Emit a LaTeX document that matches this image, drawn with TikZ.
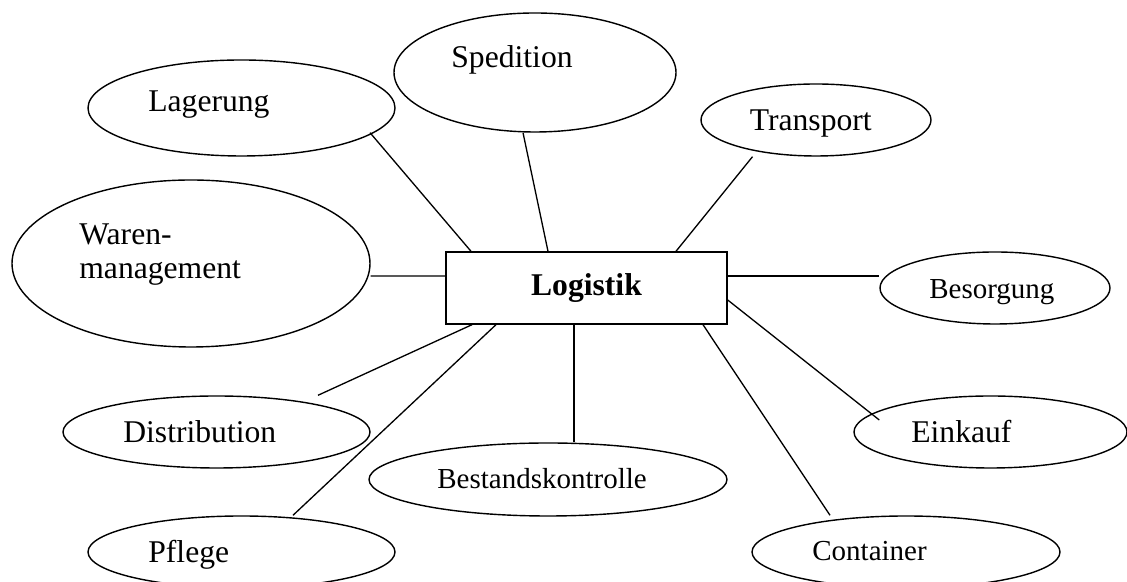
\documentclass[tikz,border=0pt]{standalone}
\usepackage{fontspec}
\setmainfont{Liberation Serif}
\usetikzlibrary{shapes.geometric, calc}
\tikzset{
    blob/.style ={draw, ellipse, line width=0.8pt, inner sep=0pt},
    core/.style ={draw, rectangle, line width=0.8pt, inner sep=0pt,
                  font=\fontsize{18}{21.6}\selectfont\bfseries},
    lbl/.style  ={font=\fontsize{18}{21.2}\selectfont, inner sep=0pt, anchor=base west},
    lblsm/.style={lbl, font=\fontsize{16.5}{19.8}\selectfont},
    link/.style ={line width=0.75pt},
}

\begin{document}
\begin{tikzpicture}[x=1cm, y=1cm]
\useasboundingbox (0,0) rectangle (22.54,11.64);

% ===================== Mitte =====================
\node[core, minimum width=5.62cm, minimum height=1.44cm] (log) at (11.73,5.88) {Logistik};

% ===================== Obere Reihe =====================
\node[blob, minimum width=6.14cm, minimum height=1.92cm] (lager) at (4.83,9.48) {};
\node[lbl] (lager-t) at (2.96,9.41) {Lagerung};
\node[blob, minimum width=5.64cm, minimum height=2.38cm] (sped) at (10.70,10.19) {};
\node[lbl] (sped-t) at (9.02,10.28) {Spedition};
\node[blob, minimum width=4.60cm, minimum height=1.44cm] (trans) at (16.32,9.24) {};
\node[lbl] (trans-t) at (14.99,9.03) {Transport};

% ===================== Links und rechts =====================
\node[blob, minimum width=7.16cm, minimum height=3.34cm] (waren) at (3.82,6.37) {};
\node[lbl, align=left] (waren-t) at (1.58,6.06) {Waren-\\[-1.4pt]management};
\node[blob, minimum width=4.60cm, minimum height=1.44cm] (besorg) at (19.90,5.88) {};
\node[lblsm] (besorg-t) at (18.58,5.67) {Besorgung};

% ===================== Untere Reihen =====================
\node[blob, minimum width=6.14cm, minimum height=1.44cm] (distr) at (4.33,3.00) {};
\node[lbl] (distr-t) at (2.46,2.79) {Distribution};
\node[blob, minimum width=5.46cm, minimum height=1.44cm] (einkauf) at (19.81,3.00) {};
\node[lbl] (einkauf-t) at (18.22,2.79) {Einkauf};
\node[blob, minimum width=7.16cm, minimum height=1.46cm] (bestand) at (10.96,2.05) {};
\node[lblsm] (bestand-t) at (8.74,1.87) {Bestandskontrolle};
\node[blob, minimum width=6.14cm, minimum height=1.44cm] (pflege) at (4.83,0.60) {};
\node[lbl] (pflege-t) at (2.96,0.39) {Pflege};
\node[blob, minimum width=6.16cm, minimum height=1.44cm] (cont) at (18.12,0.60) {};
\node[lblsm] (cont-t) at (16.24,0.42) {Container};

% ===================== Verbindungen =====================
\draw[link] ($(lager.south)+(2.57,0.48)$) -- ($(log.north)+(-2.31,0)$);
\draw[link] ($(sped.south)+(-0.24,0)$) -- ($(log.north)+(-0.77,0)$);
\draw[link] ($(trans.south)+(-1.27,0)$) -- ($(log.north)+(1.79,0)$);
\draw[link] ($(waren.east)+(0,-0.25)$) -- ($(log.west)+(0,0.24)$);
\draw[link] ($(log.east)+(0,0.24)$) -- ($(besorg.west)+(0,0.24)$);
\draw[link] ($(log.east)+(0,-0.24)$) -- ($(einkauf.west)+(0.52,0.24)$);
\draw[link] ($(log.south)+(2.33,0)$) -- ($(cont.north)+(-1.52,0)$);
\draw[link] ($(log.south)+(-0.25,0)$) coordinate (bk) -- (bk |- bestand.north);
\draw[link] ($(log.south)+(-2.29,0)$) -- ($(distr.north)+(2.03,0)$);
\draw[link] ($(log.south)+(-1.81,0)$) -- ($(pflege.north)+(1.03,0)$);

\end{tikzpicture}
\end{document}
